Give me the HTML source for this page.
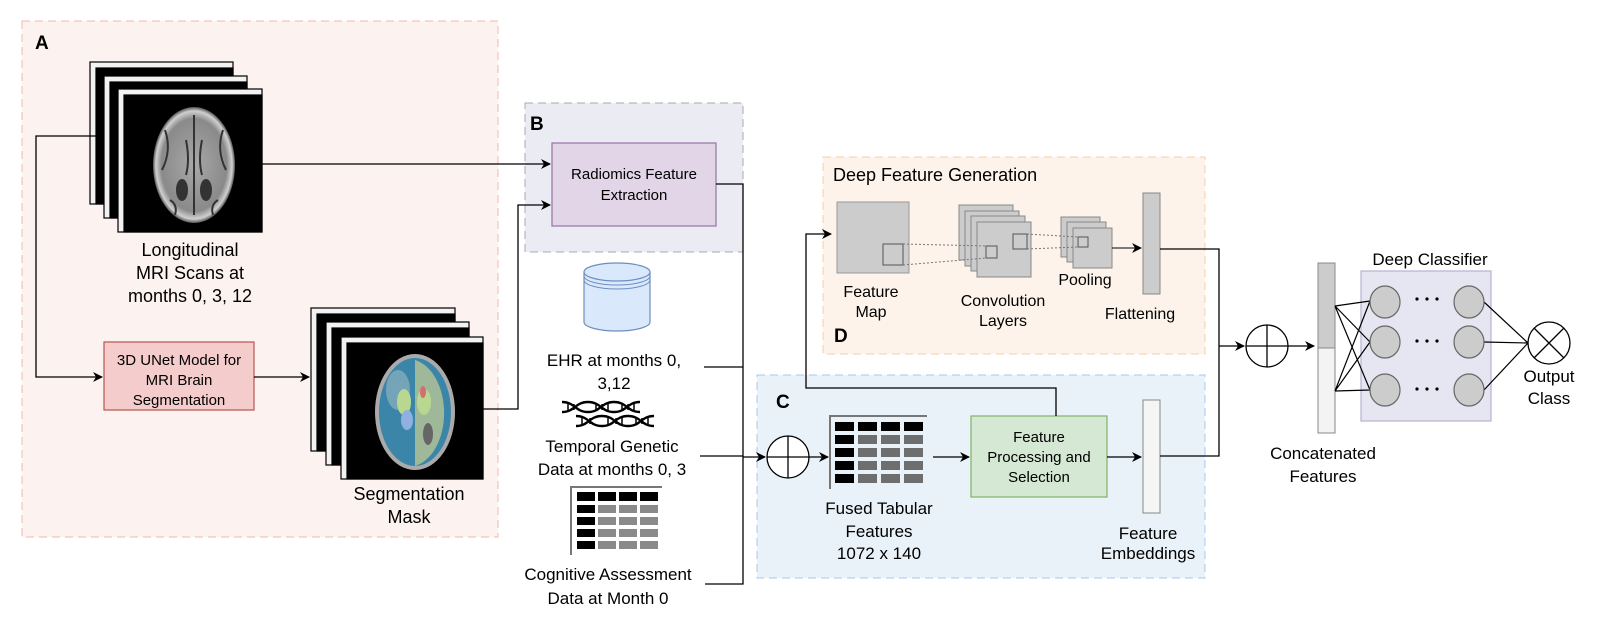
<!DOCTYPE html>
<html><head><meta charset="utf-8"><style>
html,body{margin:0;padding:0;background:#fff;}
svg{display:block;font-family:"Liberation Sans",Arial,sans-serif;}
</style></head><body>
<svg width="1608" height="630" viewBox="0 0 1608 630" xmlns="http://www.w3.org/2000/svg">
<defs>
<marker id="ar" markerWidth="10" markerHeight="10" refX="9" refY="5" orient="auto" markerUnits="userSpaceOnUse">
<path d="M0,0 L10,5 L0,10 L3,5 z" fill="#000"/></marker>
<radialGradient id="brain" cx="50%" cy="50%" r="50%">
<stop offset="0" stop-color="#a8a8a8"/><stop offset="0.8" stop-color="#8a8a8a"/><stop offset="0.93" stop-color="#d0d0d0"/><stop offset="1" stop-color="#555"/></radialGradient>
</defs>

<!-- Panels first -->
<rect x="22" y="21" width="476" height="516" fill="#fcf2ef" stroke="#f0b8b0" stroke-dasharray="8,5"/>
<rect x="525" y="103" width="218" height="149" fill="#ebebf3" stroke="#a8a8b0" stroke-dasharray="8,5"/>
<rect x="823" y="157" width="382" height="197" fill="#fdf3ea" stroke="#f5cfa8" stroke-dasharray="8,5"/>
<rect x="757" y="375" width="448" height="203" fill="#e9f2f8" stroke="#a8c8e8" stroke-dasharray="8,5"/>

<text x="35" y="49" font-size="19" font-weight="bold">A</text>

<!-- MRI stack -->
<g stroke="#000" stroke-width="1.2">
<rect x="90" y="62" width="143" height="142" fill="#f2f2f2"/><rect x="96" y="68" width="137" height="136" fill="#000"/>
<rect x="104" y="76" width="143" height="142" fill="#f2f2f2"/><rect x="110" y="82" width="137" height="136" fill="#000"/>
<rect x="118" y="89" width="144" height="143" fill="#f2f2f2"/><rect x="124" y="95" width="138" height="137" fill="#000"/>
</g>
<ellipse cx="194" cy="165" rx="41" ry="58" fill="url(#brain)"/>
<g stroke="#333" stroke-width="2" fill="none">
<path d="M194 115 V215 M186 140 Q190 160 186 175 M202 140 Q198 160 202 175"/>
<ellipse cx="182" cy="190" rx="5" ry="10" fill="#333"/><ellipse cx="206" cy="190" rx="5" ry="10" fill="#333"/>
<path d="M165 130 Q172 150 162 170 M223 130 Q216 150 226 170 M170 200 Q178 205 175 215 M218 200 Q210 205 213 215"/>
</g>
<g font-size="18" text-anchor="middle"><text x="190" y="256">Longitudinal</text><text x="190" y="279">MRI Scans at</text><text x="190" y="302">months 0, 3, 12</text></g>

<!-- connectors A -->
<path d="M96 136 H36 V377 H102" fill="none" stroke="#000" stroke-width="1.3" marker-end="url(#ar)"/>
<path d="M262 164 H550" fill="none" stroke="#000" stroke-width="1.3" marker-end="url(#ar)"/>
<rect x="104" y="342" width="150" height="68" fill="#f4cccc" stroke="#b85450" stroke-width="1.2"/>
<g font-size="15" text-anchor="middle"><text x="179" y="365">3D UNet Model for</text><text x="179" y="385">MRI Brain</text><text x="179" y="405">Segmentation</text></g>
<path d="M254 377 H309" fill="none" stroke="#000" stroke-width="1.3" marker-end="url(#ar)"/>

<!-- seg stack -->
<g stroke="#000" stroke-width="1.2">
<rect x="311" y="308" width="144" height="143" fill="#f2f2f2"/><rect x="317" y="314" width="138" height="137" fill="#000"/>
<rect x="326" y="322" width="143" height="143" fill="#f2f2f2"/><rect x="332" y="328" width="137" height="137" fill="#000"/>
<rect x="341" y="337" width="142" height="142" fill="#f2f2f2"/><rect x="347" y="343" width="136" height="136" fill="#000"/>
</g>
<ellipse cx="415" cy="412" rx="40" ry="58" fill="#aaa"/>
<ellipse cx="415" cy="412" rx="36" ry="54" fill="#3a85a8"/>
<path d="M415 360 A36 54 0 0 1 415 466 Z" fill="#9fb89a"/>
<ellipse cx="398" cy="390" rx="12" ry="20" fill="#8fb0c0" opacity="0.7"/>
<ellipse cx="404" cy="402" rx="7" ry="13" fill="#b8d890"/><ellipse cx="424" cy="402" rx="7" ry="13" fill="#b8d890"/>
<ellipse cx="407" cy="420" rx="6" ry="10" fill="#8fb0e0"/><ellipse cx="428" cy="434" rx="5" ry="11" fill="#666"/>
<ellipse cx="423" cy="392" rx="3" ry="6" fill="#d07070"/>
<g font-size="18" text-anchor="middle"><text x="409" y="500">Segmentation</text><text x="409" y="523">Mask</text></g>
<path d="M483 409 H518 V205 H550" fill="none" stroke="#000" stroke-width="1.3" marker-end="url(#ar)"/>

<!-- Panel B content -->
<text x="530" y="130" font-size="19" font-weight="bold">B</text>
<rect x="552" y="143" width="164" height="83" fill="#e1d5e7" stroke="#9673a6" stroke-width="1.2"/>
<g font-size="15" text-anchor="middle"><text x="634" y="179">Radiomics Feature</text><text x="634" y="200">Extraction</text></g>
<path d="M716 184 H743 V584 H705 M704 367 H743 M700 456 H743" fill="none" stroke="#000" stroke-width="1.3"/>

<!-- cylinder -->
<path d="M584 272 V322 A33 9 0 0 0 650 322 V272" fill="#dae8fc" stroke="#6c8ebf" stroke-width="1.2"/>
<ellipse cx="617" cy="272" rx="33" ry="9" fill="#dae8fc" stroke="#6c8ebf" stroke-width="1.2"/>
<path d="M584 276 A33 9 0 0 0 650 276 M584 280 A33 9 0 0 0 650 280" fill="none" stroke="#6c8ebf"/>
<g font-size="17" text-anchor="middle"><text x="614" y="366">EHR at months 0,</text><text x="614" y="389">3,12</text></g>

<!-- DNA -->
<g fill="none" stroke="#000" stroke-width="2.4">
<path d="M562 402 C575 402 575 412 588 412 C601 412 601 402 614 402 C627 402 627 412 640 412"/>
<path d="M562 412 C575 412 575 402 588 402 C601 402 601 412 614 412 C627 412 627 402 640 402"/>
<path d="M576 416 C589 416 589 426 602 426 C615 426 615 416 628 416 C641 416 641 426 654 426"/>
<path d="M576 426 C589 426 589 416 602 416 C615 416 615 426 628 426 C641 426 641 416 654 416"/>
</g>
<g stroke="#000" stroke-width="1.5"><path d="M568 404V410M574 404V410M596 404V410M602 404V410M608 404V410M622 404V410M628 404V410M634 404V410M582 418V424M590 418V424M608 418V424M616 418V424M622 418V424M636 418V424M642 418V424M648 418V424"/></g>
<g font-size="17" text-anchor="middle"><text x="612" y="452">Temporal Genetic</text><text x="612" y="475">Data at months 0, 3</text></g>

<!-- cognitive table -->
<path d="M571 555 V487 H662" fill="none" stroke="#777" stroke-width="2"/>
<g fill="#000"><rect x="577" y="492" width="18" height="9"/><rect x="598" y="492" width="18" height="9"/><rect x="619" y="492" width="18" height="9"/><rect x="640" y="492" width="18" height="9"/>
<rect x="577" y="505" width="18" height="8"/><rect x="577" y="517" width="18" height="8"/><rect x="577" y="529" width="18" height="8"/><rect x="577" y="541" width="18" height="8"/></g>
<g fill="#8a8a8a"><rect x="598" y="505" width="18" height="8"/><rect x="619" y="505" width="18" height="8"/><rect x="640" y="505" width="18" height="8"/>
<rect x="598" y="517" width="18" height="8"/><rect x="619" y="517" width="18" height="8"/><rect x="640" y="517" width="18" height="8"/>
<rect x="598" y="529" width="18" height="8"/><rect x="619" y="529" width="18" height="8"/><rect x="640" y="529" width="18" height="8"/>
<rect x="598" y="541" width="18" height="8"/><rect x="619" y="541" width="18" height="8"/><rect x="640" y="541" width="18" height="8"/></g>
<g font-size="17" text-anchor="middle"><text x="608" y="580">Cognitive Assessment</text><text x="608" y="604">Data at Month 0</text></g>

<!-- Panel D content -->
<text x="833" y="181" font-size="18">Deep Feature Generation</text>
<text x="834" y="342" font-size="19" font-weight="bold">D</text>
<rect x="837" y="202" width="72" height="71" fill="#cccccc" stroke="#999"/>
<rect x="883" y="244" width="20" height="21" fill="none" stroke="#555"/>
<g fill="#cccccc" stroke="#888">
<rect x="959" y="205" width="54" height="55"/><rect x="965" y="211" width="54" height="55"/><rect x="971" y="216" width="54" height="55"/><rect x="977" y="222" width="54" height="55"/>
</g>
<rect x="986" y="246" width="11" height="12" fill="none" stroke="#555"/>
<rect x="1013" y="234" width="14" height="15" fill="none" stroke="#555"/>
<g fill="#cccccc" stroke="#888"><rect x="1061" y="217" width="39" height="40"/><rect x="1067" y="222" width="39" height="40"/><rect x="1073" y="228" width="39" height="40"/></g>
<rect x="1078" y="237" width="10" height="10" fill="none" stroke="#555"/>
<g stroke="#777" stroke-dasharray="2,2" stroke-width="1"><path d="M903 244 L986 246 M903 265 L986 258 M1027 234 L1078 237 M1027 249 L1078 247"/></g>
<path d="M1112 248 H1141" fill="none" stroke="#000" stroke-width="1" marker-end="url(#ar)"/>
<rect x="1143" y="193" width="17" height="101" fill="#cccccc" stroke="#888"/>
<g font-size="16" text-anchor="middle"><text x="871" y="297">Feature</text><text x="871" y="317">Map</text>
<text x="1003" y="306">Convolution</text><text x="1003" y="326">Layers</text><text x="1085" y="285">Pooling</text><text x="1140" y="319">Flattening</text></g>

<!-- Panel C content -->
<text x="776" y="408" font-size="19" font-weight="bold">C</text>
<path d="M743 457 H765" fill="none" stroke="#000" stroke-width="1.3" marker-end="url(#ar)"/>
<circle cx="788" cy="457" r="21" fill="#fff" stroke="#000" stroke-width="1.3"/>
<path d="M767 457 H809 M788 436 V478" stroke="#000" stroke-width="1.3"/>
<path d="M809 457 H828" fill="none" stroke="#000" stroke-width="1.3" marker-end="url(#ar)"/>
<path d="M830 489 V416 H927" fill="none" stroke="#777" stroke-width="2"/>
<g fill="#000"><rect x="835" y="422" width="19" height="9"/><rect x="858" y="422" width="19" height="9"/><rect x="881" y="422" width="19" height="9"/><rect x="904" y="422" width="19" height="9"/>
<rect x="835" y="435" width="19" height="9"/><rect x="835" y="448" width="19" height="9"/><rect x="835" y="461" width="19" height="9"/><rect x="835" y="474" width="19" height="9"/></g>
<g fill="#6e6e6e"><rect x="858" y="435" width="19" height="9"/><rect x="881" y="435" width="19" height="9"/><rect x="904" y="435" width="19" height="9"/>
<rect x="858" y="448" width="19" height="9"/><rect x="881" y="448" width="19" height="9"/><rect x="904" y="448" width="19" height="9"/>
<rect x="858" y="461" width="19" height="9"/><rect x="881" y="461" width="19" height="9"/><rect x="904" y="461" width="19" height="9"/>
<rect x="858" y="474" width="19" height="9"/><rect x="881" y="474" width="19" height="9"/><rect x="904" y="474" width="19" height="9"/></g>
<path d="M933 457 H969" fill="none" stroke="#000" stroke-width="1.3" marker-end="url(#ar)"/>
<rect x="971" y="416" width="136" height="81" fill="#d5e8d4" stroke="#82b366" stroke-width="1.2"/>
<g font-size="15" text-anchor="middle"><text x="1039" y="442">Feature</text><text x="1039" y="462">Processing and</text><text x="1039" y="482">Selection</text></g>
<path d="M1056 416 V388 H806 V234 H831" fill="none" stroke="#000" stroke-width="1.3" marker-end="url(#ar)"/>
<path d="M1107 457 H1141" fill="none" stroke="#000" stroke-width="1.3" marker-end="url(#ar)"/>
<rect x="1143" y="400" width="17" height="113" fill="#f5f5f5" stroke="#888"/>
<g font-size="17" text-anchor="middle"><text x="879" y="514">Fused Tabular</text><text x="879" y="537">Features</text><text x="879" y="559">1072 x 140</text>
<text x="1148" y="539">Feature</text><text x="1148" y="559">Embeddings</text></g>

<!-- right side -->
<path d="M1160 249 H1219 V456 H1160" fill="none" stroke="#000" stroke-width="1.3"/>
<path d="M1219 346 H1244" fill="none" stroke="#000" stroke-width="1.3" marker-end="url(#ar)"/>
<circle cx="1267" cy="346" r="21" fill="#fff" stroke="#000" stroke-width="1.3"/>
<path d="M1246 346 H1288 M1267 325 V367" stroke="#000" stroke-width="1.3"/>
<path d="M1288 346 H1314" fill="none" stroke="#000" stroke-width="1.3" marker-end="url(#ar)"/>
<rect x="1318" y="263" width="17" height="85" fill="#cccccc" stroke="#888"/>
<rect x="1318" y="348" width="17" height="85" fill="#f3f3f3" stroke="#888"/>
<g font-size="17" text-anchor="middle"><text x="1323" y="459">Concatenated</text><text x="1323" y="482">Features</text></g>
<rect x="1361" y="271" width="130" height="150" fill="#e6e6f2" stroke="#b8b0d0" stroke-width="1.2"/>
<text x="1430" y="265" font-size="17" text-anchor="middle">Deep Classifier</text>
<g stroke="#000" stroke-width="1.2" fill="none">
<path d="M1335 306 L1370 301 M1335 306 L1370 342 M1335 306 L1370 390 M1335 391 L1370 301 M1335 391 L1370 342 M1335 391 L1370 390"/>
<path d="M1484 302 L1528 343 M1484 342 L1528 343 M1484 390 L1528 343"/>
</g>
<g fill="#cccccc" stroke="#666" stroke-width="1.2">
<ellipse cx="1385" cy="302" rx="15" ry="16"/><ellipse cx="1385" cy="342" rx="15" ry="16"/><ellipse cx="1385" cy="390" rx="15" ry="16"/>
<ellipse cx="1469" cy="302" rx="15" ry="16"/><ellipse cx="1469" cy="342" rx="15" ry="16"/><ellipse cx="1469" cy="390" rx="15" ry="16"/>
</g>
<g fill="#000"><circle cx="1417" cy="299" r="1.6"/><circle cx="1427" cy="299" r="1.6"/><circle cx="1437" cy="299" r="1.6"/>
<circle cx="1417" cy="341" r="1.6"/><circle cx="1427" cy="341" r="1.6"/><circle cx="1437" cy="341" r="1.6"/>
<circle cx="1417" cy="389" r="1.6"/><circle cx="1427" cy="389" r="1.6"/><circle cx="1437" cy="389" r="1.6"/></g>
<circle cx="1549" cy="343" r="21" fill="#fff" stroke="#000" stroke-width="1.3"/>
<path d="M1534 328 L1564 358 M1564 328 L1534 358" stroke="#000" stroke-width="1.3"/>
<g font-size="17" text-anchor="middle"><text x="1549" y="382">Output</text><text x="1549" y="404">Class</text></g>
</svg>
</body></html>
